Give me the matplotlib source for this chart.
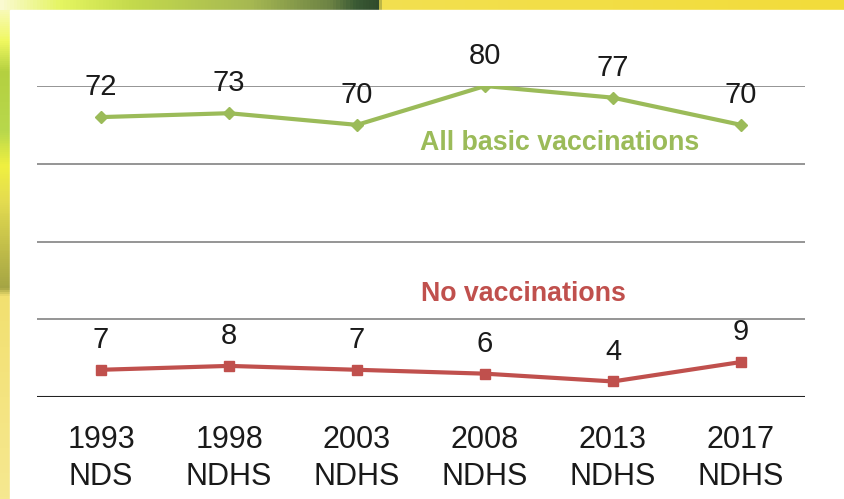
import matplotlib
matplotlib.use("Agg")
import matplotlib.pyplot as plt
import numpy as np
from matplotlib.colors import LinearSegmentedColormap
from matplotlib.patches import Rectangle

plt.rcParams['font.family'] = ['Liberation Sans', 'DejaVu Sans']

# Datos
encuestas = ['1993\nNDS', '1998\nNDHS', '2003\nNDHS', '2008\nNDHS', '2013\nNDHS', '2017\nNDHS']
todas_basicas = [72, 73, 70, 80, 77, 70]
ninguna = [7, 8, 7, 6, 4, 9]

verde = '#9BBB59'
rojo = '#C0504D'

W, H = 844, 499
fig = plt.figure(figsize=(W / 100, H / 100), dpi=100)

# Fondo decorativo (franja superior e izquierda)
def rampa(stops, n):
    pos = [p / (n - 1) for p, _ in stops]
    cm = LinearSegmentedColormap.from_list('r', list(zip(pos, [c for _, c in stops])))
    return cm(np.linspace(0, 1, n))[:, :3]

col_izq = rampa([(0, '#fafad0'), (40, '#f0f860'), (70, '#b4d040'), (130, '#b8d84c'),
                 (165, '#f0f040'), (200, '#e4dc50'), (288, '#a4a444'), (296, '#f2e070'),
                 (498, '#f6e890')], H)
fila_sup = rampa([(0, '#fafad0'), (60, '#e4f560'), (130, '#c4da4c'), (250, '#a6b852'),
                  (330, '#6c8244'), (355, '#3a5a34'), (378, '#2f4a2c'), (381, '#f2e050'),
                  (843, '#f2dc3a')], W)
img = np.repeat(col_izq[:, None, :], W, axis=1)
img[:10, :, :] = fila_sup[None, :, :]

bg = fig.add_axes([0, 0, 1, 1], zorder=-10)
bg.imshow(img, extent=[0, W, H, 0], aspect='auto')
bg.add_patch(Rectangle((10, 10), W, H, color='white'))
bg.set_xlim(0, W)
bg.set_ylim(H, 0)
bg.axis('off')

ax = fig.add_axes([37 / W, 1 - 397 / H, 768 / W, 311 / H])
ax.set_facecolor('none')
x = np.arange(len(encuestas))

ax.plot(x, todas_basicas, color=verde, lw=3, marker='D', ms=6.5, zorder=3)
ax.plot(x, ninguna, color=rojo, lw=3, marker='s', ms=7.5, zorder=3)

# Etiquetas de valores
for serie in (todas_basicas, ninguna):
    for xi, v in zip(x, serie):
        ax.annotate(str(v), (xi, v), xytext=(0, 21.5), textcoords='offset points',
                    ha='center', va='center', fontsize=21, color='#1a1a1a', zorder=4)

ax.text(3.586, 65.3, 'All basic vaccinations', color=verde, fontsize=19.3,
        fontweight='bold', ha='center', va='center')
ax.text(3.30, 26.5, 'No vaccinations', color=rojo, fontsize=19.3,
        fontweight='bold', ha='center', va='center')

ax.set_xlim(-0.5, len(encuestas) - 0.5)
ax.set_ylim(0, 80)
ax.set_yticks([0, 20, 40, 60, 80])
ax.yaxis.grid(True, color='#8c8c8c', lw=1.3, zorder=1)
ax.axhline(0, color='#222222', lw=1.5, zorder=2)
ax.set_yticklabels([])
ax.tick_params(axis='y', length=0)
ax.set_xticks(x)
ax.set_xticklabels(encuestas, fontsize=22, color='#1a1a1a', linespacing=1.32)
ax.tick_params(axis='x', length=0, pad=20)
for s in ax.spines.values():
    s.set_visible(False)

fig.savefig('out.png', dpi=100)
